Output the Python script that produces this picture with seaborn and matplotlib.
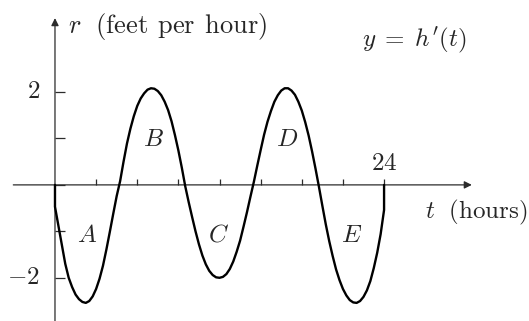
import numpy as np
import pandas as pd
import matplotlib
matplotlib.use("Agg")
import matplotlib.pyplot as plt
import seaborn as sns

# Rate of change of the water level, r = h'(t), read every quarter hour
hours = [0, 0, 0.25, 0.5, 0.75, 1.0, 1.25, 1.5, 1.75, 2.0, 2.25, 2.5, 2.75,
         3.0, 3.25, 3.5, 3.75, 4.0, 4.25, 4.5, 4.75, 5.0, 5.25, 5.5, 5.75,
         6.0, 6.25, 6.5, 6.75, 7.0, 7.25, 7.5, 7.75, 8.0, 8.25, 8.5, 8.75,
         9.0, 9.25, 9.5, 9.75, 10.0, 10.25, 10.5, 10.75, 11.0, 11.25, 11.5,
         11.75, 12.0, 12.25, 12.5, 12.75, 13.0, 13.25, 13.5, 13.75, 14.0,
         14.25, 14.5, 14.75, 15.0, 15.25, 15.5, 15.75, 16.0, 16.25, 16.5,
         16.75, 17.0, 17.25, 17.5, 17.75, 18.0, 18.25, 18.5, 18.75, 19.0,
         19.25, 19.5, 19.75, 20.0, 20.25, 20.5, 20.75, 21.0, 21.25, 21.5,
         21.75, 22.0, 22.25, 22.5, 22.75, 23.0, 23.25, 23.5, 23.75, 24.0, 24]
rate = [0, -0.47, -0.88, -1.29, -1.70, -2.00, -2.20, -2.36, -2.46, -2.52,
        -2.54, -2.50, -2.40, -2.24, -2.02, -1.74, -1.39, -1.01, -0.62, -0.24,
        0.08, 0.50, 0.89, 1.21, 1.48, 1.70, 1.86, 1.97, 2.05, 2.08, 2.07,
        2.02, 1.93, 1.79, 1.61, 1.37, 1.07, 0.74, 0.37, -0.03, -0.37, -0.69,
        -1.00, -1.28, -1.52, -1.71, -1.85, -1.94, -1.99, -2.00, -1.98, -1.92,
        -1.81, -1.65, -1.44, -1.20, -0.90, -0.59, -0.26, 0.06, 0.41, 0.75,
        1.08, 1.36, 1.59, 1.79, 1.93, 2.03, 2.08, 2.08, 2.03, 1.94, 1.79,
        1.60, 1.35, 1.06, 0.72, 0.35, -0.04, -0.45, -0.85, -1.21, -1.53,
        -1.82, -2.05, -2.24, -2.38, -2.48, -2.53, -2.54, -2.50, -2.41, -2.27,
        -2.07, -1.79, -1.46, -1.06, -0.54, 0]

x_ticks = [3, 6, 9, 12, 15, 18, 21, 24]
y_ticks = [-2, -1, 0, 1, 2]
region_names = ["A", "B", "C", "D", "E"]
region_t = [2.35, 7.15, 11.95, 16.9, 21.65]
region_r = [-1.08, 0.97, -1.08, 0.97, -1.08]

sns.set_theme(style="white")
plt.rcParams["mathtext.fontset"] = "cm"
plt.rcParams["font.family"] = ["DejaVu Serif"]

fig = plt.figure(figsize=(5.29, 3.21), dpi=100)
ax = fig.add_axes([0, 0, 1, 1])
ax.set_xlim(-4.01, 34.57)
ax.set_ylim(-2.93, 3.98)

df = pd.DataFrame({"t": hours, "r": rate})
sns.lineplot(data=df, x="t", y="r", estimator=None, sort=False,
             color="black", linewidth=1.7, ax=ax, zorder=3)

axis_color = "#2b2b2b"
for s in ax.spines.values():
    s.set_visible(False)
ax.spines["left"].set_position(("data", 0))
ax.spines["bottom"].set_position(("data", 0))

# coordinate axes with arrowheads
arrow = dict(arrowstyle="-|>", color=axis_color, lw=0.9,
             mutation_scale=11, shrinkA=0, shrinkB=0)
ax.annotate("", xy=(30.4, 0), xytext=(-3.04, 0), arrowprops=arrow, zorder=2)
ax.annotate("", xy=(0, 3.59), xytext=(0, -2.95), arrowprops=arrow, zorder=2)

ax.set_xticks(x_ticks)
ax.set_yticks(y_ticks)
ax.set_xticklabels([])
ax.set_yticklabels([])
ax.tick_params(axis="x", direction="in", length=4.3, width=0.9,
               color=axis_color, bottom=True)
ax.tick_params(axis="y", direction="in", length=7, width=0.9,
               color=axis_color, left=True)
ax.set_xlabel("")
ax.set_ylabel("")

fs = 18
ax.text(-1.09, 2, r"$2$", ha="right", va="center", fontsize=fs)
ax.text(-1.09, -2, r"$-2$", ha="right", va="center", fontsize=fs)
ax.text(24, 0.47, r"$24$", ha="center", va="center", fontsize=fs)

ax.text(0.95, 3.40, r"$r\ \ \mathrm{(feet\;\,per\;\,hour)}$", ha="left",
        va="center", fontsize=19)
ax.text(22.37, 3.12, r"$y\;=\;h'(t)$", ha="left", va="center", fontsize=fs)
ax.text(26.99, -0.60, r"$t\ \ \mathrm{(hours)}$", ha="left", va="center",
        fontsize=fs)

for name, tx, ry in zip(region_names, region_t, region_r):
    ax.text(tx, ry, f"${name}$", ha="center", va="center", fontsize=fs)

fig.savefig("out.png", dpi=100)
